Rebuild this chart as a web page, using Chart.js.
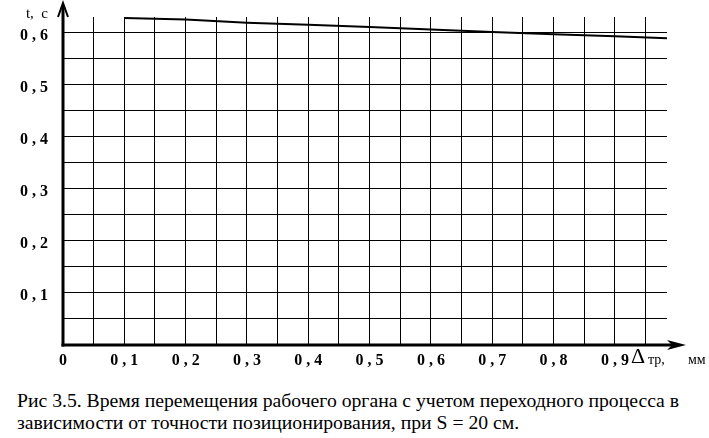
<!DOCTYPE html>
<html>
<head>
<meta charset="utf-8">
<script src="https://cdn.jsdelivr.net/npm/chart.js@4"></script>
<style>
  html, body { margin: 0; padding: 0; background: #fff; }
  body { width: 709px; height: 438px; position: relative; overflow: hidden; }
  #wrap { position: absolute; left: 0; top: 0; width: 709px; height: 380px; }
  .caption {
    position: absolute; left: 17px;
    font-family: "Liberation Serif", "Times New Roman", serif;
    font-size: 19.7px; color: #000; white-space: nowrap;
  }
</style>
</head>
<body>
<div id="wrap"><canvas id="chart"></canvas></div>
<div class="caption" style="top:389px">Рис 3.5. Время перемещения рабочего органа с учетом переходного процесса в</div>
<div class="caption" style="top:411px">зависимости от точности позиционирования, при S = 20 см.</div>
<script>
// Δтр, мм
const accuracy = [0.1, 0.2, 0.3, 0.4, 0.5, 0.6, 0.7, 0.8, 0.9, 0.985];
// t, c
const moveTime = [0.628, 0.625, 0.619, 0.615, 0.611, 0.606, 0.601, 0.597, 0.593, 0.589];
const xTickValues = [0, 0.1, 0.2, 0.3, 0.4, 0.5, 0.6, 0.7, 0.8, 0.9];
const yTickValues = [0.1, 0.2, 0.3, 0.4, 0.5, 0.6];
const xGrid = [0, 0.05, 0.1, 0.15, 0.2, 0.25, 0.3, 0.35, 0.4, 0.45, 0.5, 0.55, 0.6, 0.65, 0.7, 0.75, 0.8, 0.85, 0.9, 0.95];
const yGrid = [0, 0.05, 0.1, 0.15, 0.2, 0.25, 0.3, 0.35, 0.4, 0.45, 0.5, 0.55, 0.6];

const SERIF = '"Liberation Serif", "Times New Roman", serif';
const fmt = (v) => (v === 0 ? "0" : v.toFixed(1).replace(".", " , "));
const hasTick = (list, v) => list.some((t) => Math.abs(t - v) < 1e-6);

const axesArrows = {
  id: "axesArrows",
  afterDraw(chart) {
    const { ctx, chartArea } = chart;
    const { left, bottom } = chartArea;
    ctx.save();
    ctx.strokeStyle = "#000";
    ctx.fillStyle = "#000";
    // y axis
    ctx.lineWidth = 3;
    ctx.beginPath();
    ctx.moveTo(left, bottom + 1.5);
    ctx.lineTo(left, 6);
    ctx.stroke();
    ctx.lineWidth = 2;
    ctx.beginPath();
    ctx.moveTo(left - 5, 17);
    ctx.lineTo(left, 3);
    ctx.lineTo(left + 5, 17);
    ctx.stroke();
    // x axis
    ctx.lineWidth = 3;
    ctx.beginPath();
    ctx.moveTo(left - 1.5, bottom);
    ctx.lineTo(676, bottom);
    ctx.stroke();
    ctx.beginPath();
    ctx.moveTo(686, bottom);
    ctx.lineTo(667, bottom - 5);
    ctx.lineTo(672, bottom);
    ctx.lineTo(667, bottom + 5);
    ctx.closePath();
    ctx.fill();
    // axis titles
    ctx.textBaseline = "middle";
    ctx.textAlign = "right";
    ctx.font = "15px " + SERIF;
    ctx.fillText("t,  c", 48, 14);
    ctx.textAlign = "left";
    ctx.font = "22px " + SERIF;
    ctx.fillText("Δ", 631, 357);
    ctx.font = "14px " + SERIF;
    ctx.fillText("тр,", 648, 360);
    ctx.fillText("мм", 688, 360);
    ctx.restore();
  },
};

new Chart(document.getElementById("chart").getContext("2d"), {
  type: "line",
  data: {
    datasets: [
      {
        data: accuracy.map((x, i) => ({ x, y: moveTime[i] })),
        borderColor: "#000",
        borderWidth: 2,
        pointRadius: 0,
        tension: 0,
      },
    ],
  },
  options: {
    responsive: true,
    maintainAspectRatio: false,
    animation: false,
    layout: { padding: { top: 17, right: 42, left: 0, bottom: 0 } },
    plugins: { legend: { display: false }, tooltip: { enabled: false } },
    scales: {
      x: {
        type: "linear",
        min: 0,
        max: 0.985,
        afterBuildTicks: (s) => { s.ticks = xGrid.map((value) => ({ value })); },
        afterFit: (s) => { s.height = 35; s.paddingLeft = 0; s.paddingRight = 0; },
        border: { display: false },
        grid: { color: "#000", lineWidth: 1, drawTicks: false },
        ticks: {
          autoSkip: false,
          maxRotation: 0,
          padding: 6,
          color: "#000",
          font: { family: SERIF, size: 16, weight: "bold" },
          callback: (v) => (hasTick(xTickValues, v) ? fmt(v) : ""),
        },
      },
      y: {
        min: 0,
        max: 0.63,
        afterBuildTicks: (s) => { s.ticks = yGrid.map((value) => ({ value })); },
        afterFit: (s) => { s.width = 63; s.paddingTop = 0; s.paddingBottom = 0; },
        border: { display: false },
        grid: { color: "#000", lineWidth: 1, drawTicks: false },
        ticks: {
          autoSkip: false,
          padding: 15,
          labelOffset: 3,
          color: "#000",
          font: { family: SERIF, size: 16, weight: "bold" },
          callback: (v) => (hasTick(yTickValues, v) ? fmt(v) : ""),
        },
      },
    },
  },
  plugins: [axesArrows],
});
</script>
</body>
</html>
